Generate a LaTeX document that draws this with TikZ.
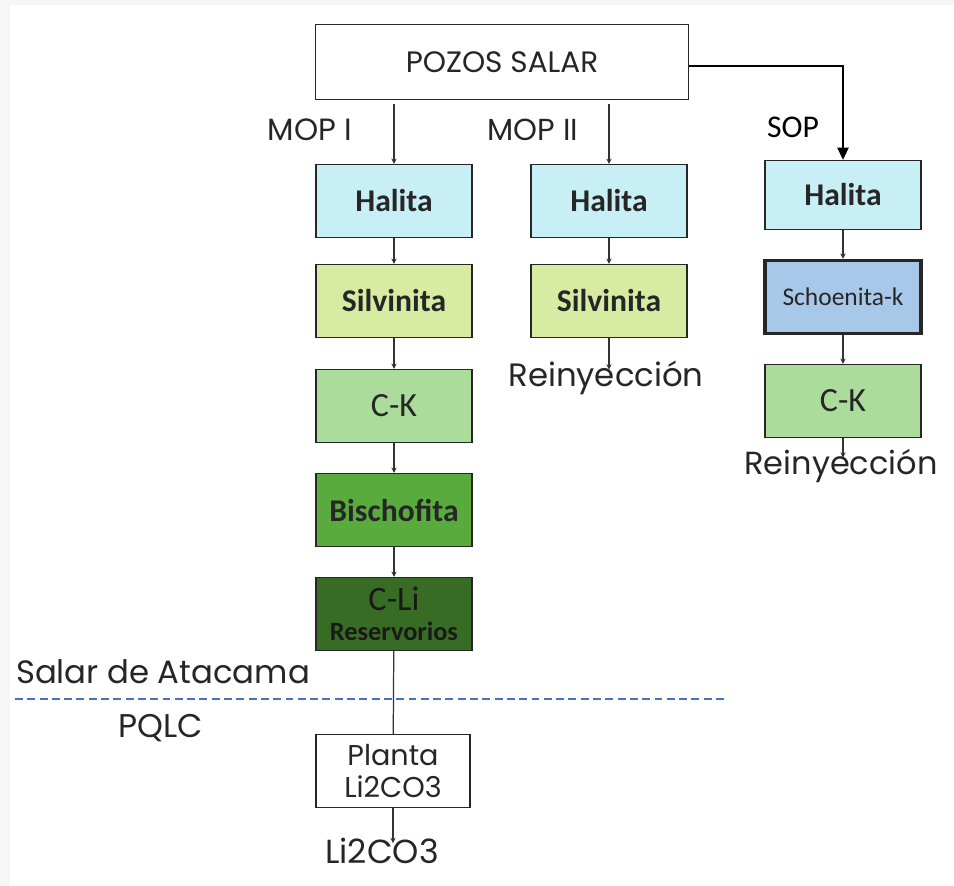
\documentclass[tikz,border=0pt]{standalone}
\usepackage{fontspec}
\setmainfont{Poppins}
\newfontfamily\calib{Carlito}
\usetikzlibrary{arrows.meta, positioning, calc}
\definecolor{framegray}{HTML}{F6F6F6}
\definecolor{halitablue}{HTML}{C8EFF5}
\definecolor{silvgreen}{HTML}{D7EBA2}
\definecolor{ckgreen}{HTML}{ACDC9C}
\definecolor{bischgreen}{HTML}{58AB3C}
\definecolor{cligreen}{HTML}{386C24}
\definecolor{schoenblue}{HTML}{A8C8EA}
\definecolor{sepblue}{HTML}{4472C4}
\definecolor{textgray}{HTML}{262626}

\tikzset{
  salt/.style={draw=black!85, line width=0.8pt, minimum width=3.12cm, minimum height=1.46cm,
    inner sep=0pt, align=center, text=black!85, font=\calib\fontsize{18}{20}\selectfont\bfseries},
  tag/.style={inner sep=0pt, text=textgray, font=\fontsize{18.4}{20}\selectfont},
  flow/.style={draw=black!80, line width=0.7pt, -{Stealth[length=3pt,width=3pt]}},
  sopflow/.style={draw=black, line width=0.8pt, -{Triangle[length=7pt,width=6.5pt]}},
  sepline/.style={draw=sepblue, line width=0.9pt, dash pattern=on 4.5pt off 2.5pt}
}

\begin{document}
\begin{tikzpicture}[x=0.02cm, y=-0.02cm]
  % frame
  \fill[framegray] (0,0) rectangle (954,886);
  \fill[white] (10,5) rectangle (954,886);

  \node[draw=black!85, line width=0.8pt, minimum width=7.46cm, minimum height=1.5cm,
    inner sep=0pt, text=textgray, font=\fontsize{16.8}{18}\selectfont] (pozos) at (502,62) {POZOS SALAR};

  % MOP I
  \node[salt, fill=halitablue] (h1) at (394,201) {Halita};
  \node[salt, fill=silvgreen] (s1) at (394,301) {Silvinita};
  \node[salt, fill=ckgreen, font=\calib\fontsize{19.3}{21}\selectfont] (ck1) at (394,406) {C-K};
  \node[salt, fill=bischgreen] (b1) at (394,510) {Bischofita};
  \node[salt, fill=cligreen, text=black!90, font=\calib\fontsize{19.5}{21}\selectfont]
    (cli) at (394,614) {C-Li\\[-4pt]{\fontsize{15}{17}\selectfont\bfseries Reservorios}};

  % MOP II
  \node[salt, fill=halitablue] (h2) at (609,201) {Halita};
  \node[salt, fill=silvgreen] (s2) at (609,301) {Silvinita};
  \node[tag] (rein2) at (606,378) {Reinyección};

  % SOP
  \node[salt, fill=halitablue, minimum height=1.38cm] (h3) at (843,195) {Halita};
  \node[salt, fill=schoenblue, line width=2pt, minimum height=1.46cm,
    font=\calib\fontsize{14.5}{16}\selectfont] (sch) at (843,297) {Schoenita-k};
  \node[salt, fill=ckgreen, font=\calib\fontsize{19.3}{21}\selectfont] (ck3) at (843,401) {C-K};
  \node[tag, font=\fontsize{18.2}{20}\selectfont] (rein3) at (841,466) {Reinyección};

  \node[tag, font=\fontsize{17.5}{19}\selectfont] (mop1) at (310,130) {MOP I};
  \node[tag, font=\fontsize{17.3}{19}\selectfont] (mop2) at (533,130) {MOP II};
  \node[tag, text=black, font=\calib\fontsize{18}{20}\selectfont] (sop) at (793,127) {SOP};

  % PQLC
  \node[tag] (salar) at (163,672) {Salar de Atacama};
  \node[tag, font=\fontsize{18.7}{20}\selectfont] (pqlc) at (161,728) {PQLC};
  \node[draw=black!85, line width=0.8pt, minimum width=3.08cm, minimum height=1.46cm,
    inner sep=0pt, align=center, text=textgray, font=\fontsize{16.3}{18}\selectfont]
    (planta) at (393,771) {Planta\\Li2CO3};
  \node[tag, font=\fontsize{19}{21}\selectfont] (li) at (382,851) {Li2CO3};

  \coordinate (sepl) at (15,699);
  \coordinate (sepr) at (727,699);
  \draw[sepline] (sepl) -- (sepr);

  % connectors
  \draw[flow, shorten <=2pt] (pozos.south -| h1.north) -- (h1.north);
  \draw[flow, shorten <=2pt] (pozos.south -| h2.north) -- (h2.north);
  \draw[sopflow] ($(pozos.east)+(0,4)$) -| (h3.north);
  \draw[flow] (h1) -- (s1);
  \draw[flow] (s1) -- (ck1);
  \draw[flow] (ck1) -- (b1);
  \draw[flow] (b1) -- (cli);
  \draw[flow] (h2) -- (s2);
  \draw[flow, shorten >=-5pt] (s2.south) -- (rein2.north -| s2.south);
  \draw[flow] (h3) -- (sch);
  \draw[flow] (sch) -- (ck3);
  \draw[flow, shorten >=-5pt] (ck3.south) -- (rein3.north -| ck3.south);
  \draw[draw=black!80, line width=0.7pt] (cli) -- (planta);
  \draw[flow, shorten >=-3pt] (planta.south) -- (li.north -| planta.south);
\end{tikzpicture}
\end{document}
